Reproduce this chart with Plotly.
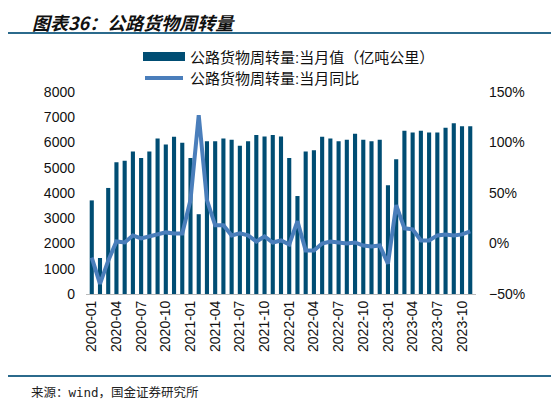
import plotly.graph_objects as go

months = [f"{y}-{m:02d}" for y in range(2020, 2024) for m in range(1, 13)][:47]

volume = [3707, 1427, 4200, 5213, 5280, 5640, 5387, 5640, 6160, 5920, 6227, 5987,
          5387, 3160, 6053, 6053, 6160, 6107, 5867, 6053, 6293, 6240, 6293, 6240,
          5387, 3880, 5640, 5693, 6227, 6160, 6053, 6107, 6347, 6107, 6053, 6107,
          4307, 5333, 6467, 6400, 6467, 6400, 6400, 6587, 6760, 6640, 6640]

yoy = [-14, -40, -17, 2, 1, 8, 5, 7, 9, 11, 10, 10,
       43, 127, 43, 18, 18, 8, 10, 8, 2, 7, 1, 3,
       -1, 22, -7, -7, 0, 2, 1, 0, 1, -2, -3, -2,
       -20, 38, 15, 14, 3, 3, 8, 9, 8, 9, 12]

tick_labels = months[::3]

bar_name = "公路货物周转量:当月值（亿吨公里）"
line_name = "公路货物周转量:当月同比"
title_text = "图表36：公路货物周转量"
source_text = "来源：wind，国金证券研究所"

BAR_C = "#004D73"
LINE_C = "#4A7EBB"
FONT = "Liberation Sans, Noto Sans CJK SC, sans-serif"

fig = go.Figure()
fig.add_trace(go.Bar(x=months, y=volume, name=bar_name, marker_color=BAR_C,
                     marker_line_width=0, yaxis="y"))
fig.add_trace(go.Scatter(x=months, y=yoy, name=line_name, mode="lines",
                         line=dict(color=LINE_C, width=4), yaxis="y2"))

OFF = 8  # page body margin
W, H = 559 - OFF, 406 - OFF
L, R, T, B = 86 - OFF, 83, 92 - OFF, 112
pw, ph = W - L - R, H - T - B
def px(x): return (x - OFF - L) / pw
def py(y): return (H - B - (y - OFF)) / ph

shapes = [
    dict(type="line", xref="paper", yref="paper", x0=px(5), x1=px(555), y0=py(33), y1=py(33),
         line=dict(color="#2B6A8C", width=2)),
    dict(type="line", xref="paper", yref="paper", x0=px(5), x1=px(555), y0=py(376), y1=py(376),
         line=dict(color="#2B6A8C", width=2)),
    dict(type="rect", xref="paper", yref="paper", x0=px(143), x1=px(185), y0=py(61), y1=py(52),
         fillcolor=BAR_C, line=dict(width=0)),
    dict(type="line", xref="paper", yref="paper", x0=px(145), x1=px(183), y0=py(78), y1=py(78),
         line=dict(color=LINE_C, width=4)),
]
annotations = [
    dict(text=title_text, xref="paper", yref="paper", x=px(31), y=py(8), xanchor="left",
         yanchor="top", showarrow=False, borderpad=0,
         font=dict(family="Noto Sans CJK SC", size=18, color="#111111", weight="bold", style="italic")),
    dict(text=source_text, xref="paper", yref="paper", x=px(29), y=py(392), xanchor="left",
         yanchor="middle", showarrow=False,
         font=dict(family="DejaVu Sans Mono, Noto Sans CJK SC", size=12.5, color="#222222")),
    dict(text=bar_name, xref="paper", yref="paper", x=px(188), y=py(57), xanchor="left",
         yanchor="middle", showarrow=False, font=dict(family=FONT, size=15, color="#111111")),
    dict(text=line_name, xref="paper", yref="paper", x=px(188), y=py(79), xanchor="left",
         yanchor="middle", showarrow=False, font=dict(family=FONT, size=15, color="#111111")),
]

fig.update_layout(
    width=W, height=H, margin=dict(l=L, r=R, t=T, b=B, autoexpand=False),
    paper_bgcolor="white", plot_bgcolor="white",
    showlegend=False, bargap=0.5,
    font=dict(family=FONT, size=14, color="#111111"),
    xaxis=dict(type="category", tickmode="array", tickvals=tick_labels, ticktext=tick_labels,
               tickangle=-90, showgrid=False, showline=True, linecolor="#BBBBBB",
               ticks="", ticklen=0, tickfont=dict(size=14), range=[-0.7, 46.7]),
    yaxis=dict(range=[0, 8000], dtick=1000, showgrid=False, showline=False, zeroline=False,
               ticks="", tickfont=dict(size=14), ticklabelstandoff=10),
    yaxis2=dict(range=[-50, 150], dtick=50, overlaying="y", side="right", showgrid=False,
                zeroline=False, showline=False, ticksuffix="%", ticks="",
                tickfont=dict(size=14), ticklabelstandoff=12),
    shapes=shapes, annotations=annotations,
)

fig.write_html("out.html")
